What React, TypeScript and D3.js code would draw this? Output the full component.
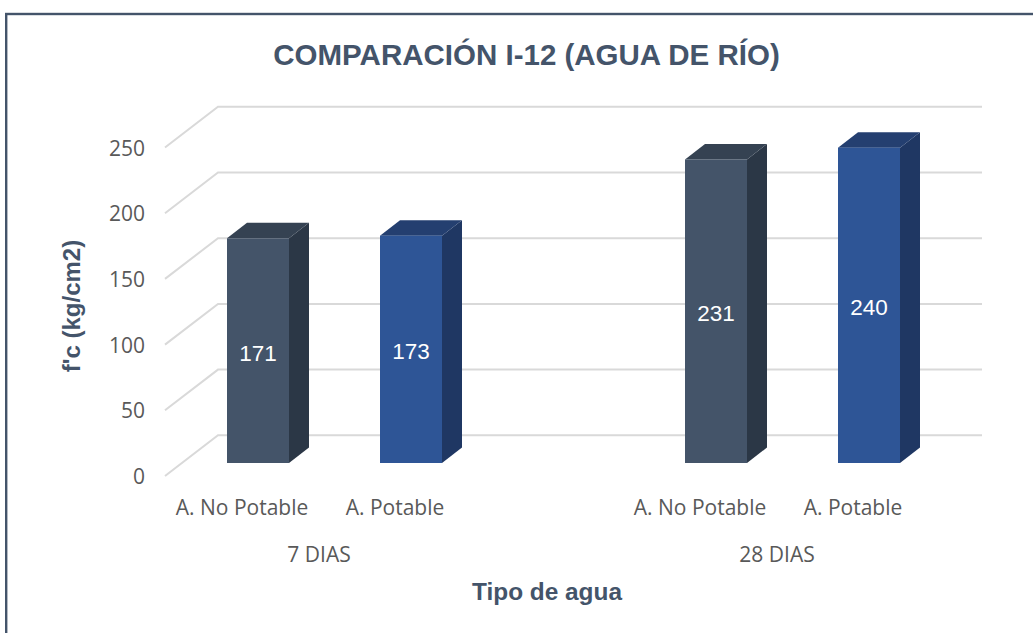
import React from "react";
import * as d3 from "d3";

const groups = ["7 DIAS", "28 DIAS"];
const waterTypes = ["A. No Potable", "A. Potable"];
const noPotable = [171, 231];
const potable = [173, 240];
const yTicks = [0, 50, 100, 150, 200, 250];
const title = "COMPARACIÓN I-12 (AGUA DE RÍO)";
const yTitle = "f'c (kg/cm2)";
const xTitle = "Tipo de agua";

const colors = [
  { front: "#445469", side: "#2b3746", top: "#354252" },
  { front: "#2e5596", side: "#1f3763", top: "#243f70" },
];

const W = 1033, H = 633;
const yFront = d3.scaleLinear().domain([0, 250]).range([476, 147.5]);
const group = d3.scaleBand<string>().domain(groups).range([105.5, 1021.5]);
const inner = d3.scaleBand<string>().domain(waterTypes).range([-153, 153]);
const BAR_W = 62;
const WALL = { dx: 53, dy: -40.7, xEnd: 982 };
const BAR_BASE_SHIFT = -13;
const BAR_DEPTH = { dx: 20, dy: -15.5 };

const axisFont = "'Liberation Sans', Arial, sans-serif";
const catFont = "'Open Sans', sans-serif";

export default function App() {
  const series = [noPotable, potable];
  const h = (v: number) => yFront(0) - yFront(v);
  return (
    <svg width={W} height={H} style={{ position: "fixed", left: 0, top: 0, background: "#fff" }}>
      <rect x={6.2} y={14} width={1040} height={640} fill="#fff" stroke="#44546a" strokeWidth={2.4} />
      <text x={526.5} y={65} textAnchor="middle" fontFamily={axisFont} fontWeight={700} fontSize={29.5} fill="#44546a">{title}</text>

      {yTicks.map((t) => {
        const y = yFront(t);
        const x0 = 165;
        return (
          <g key={t}>
            <polyline
              points={`${x0},${y} ${x0 + WALL.dx},${y + WALL.dy} ${WALL.xEnd},${y + WALL.dy}`}
              fill="none" stroke="#d9d9d9" strokeWidth={2}
            />
            <text x={145} y={y + 8} textAnchor="end" fontFamily={catFont} fontSize={21} fill="#595959">{t}</text>
          </g>
        );
      })}

      {groups.map((g, gi) => (
        <g key={g}>
          {waterTypes.map((wt, si) => {
            const v = series[si][gi];
            const cx = group(g)! + group.bandwidth() / 2 + inner(wt)! + inner.bandwidth() / 2;
            const x0 = cx - BAR_W / 2, x1 = cx + BAR_W / 2;
            const base = yFront(0) + BAR_BASE_SHIFT;
            const top = base - h(v);
            const c = colors[si];
            const { dx, dy } = BAR_DEPTH;
            return (
              <g key={wt}>
                <path d={`M${x1},${top}L${x1 + dx},${top + dy}L${x1 + dx},${base + dy}L${x1},${base}Z`} fill={c.side} />
                <path d={`M${x0},${top}L${x0 + dx},${top + dy}L${x1 + dx},${top + dy}L${x1},${top}Z`} fill={c.top} />
                <rect x={x0} y={top} width={BAR_W} height={base - top} fill={c.front} />
                <text x={cx} y={(top + base) / 2 + 10} textAnchor="middle" fontFamily={axisFont} fontSize={22.5} fill="#fff">{v}</text>
                <text x={cx - 16} y={515} textAnchor="middle" fontFamily={catFont} fontSize={21} fill="#595959">{wt}</text>
              </g>
            );
          })}
          <text x={group(g)! + group.bandwidth() / 2 - 15.5} y={561.5} textAnchor="middle" fontFamily={catFont} fontSize={21} fill="#595959">{g}</text>
        </g>
      ))}

      <text x={547} y={600} textAnchor="middle" fontFamily={axisFont} fontWeight={700} fontSize={24.4} fill="#44546a">{xTitle}</text>
      <text transform="translate(80,306) rotate(-90)" textAnchor="middle" fontFamily={axisFont} fontWeight={700} fontSize={24} fill="#44546a">{yTitle}</text>
    </svg>
  );
}
